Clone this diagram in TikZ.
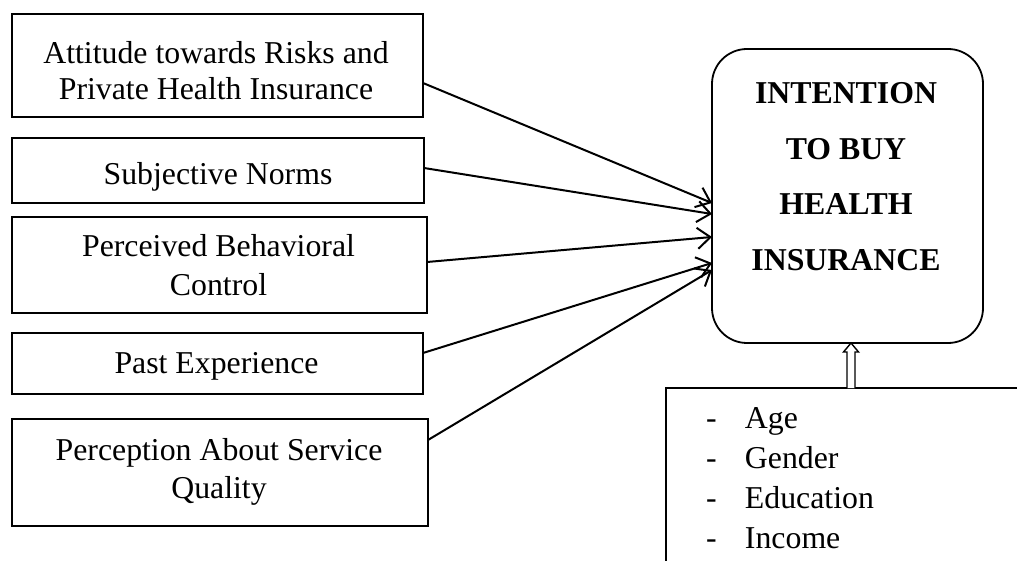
\documentclass[tikz,border=0pt]{standalone}
\usepackage{fontspec}
\setmainfont{Liberation Serif}
\usetikzlibrary{arrows.meta,calc}
\newcommand\mytxt[2]{\fontsize{31.8}{#1}\selectfont\begin{tabular}[t]{@{}c@{}}#2\end{tabular}}
\begin{document}
\begin{tikzpicture}[x=1pt,y=-1pt,
  box/.style={draw, line width=1.8pt, inner sep=0, outer sep=0, rectangle},
  lbl/.style={anchor=base, inner sep=0, outer sep=0},
  arr/.style={line width=2pt, -{Straight Barb[length=13pt,width=21pt,line width=2pt]}}]
\useasboundingbox (0,0) rectangle (1017,561);
\clip (0,0) rectangle (1017,561);

% left boxes
\node[box, minimum width=411pt, minimum height=103pt] (b1) at (217.5,65.5) {};
\node[box, minimum width=412pt, minimum height=65pt] (b2) at (218,170.5) {};
\node[box, minimum width=415pt, minimum height=96pt] (b3) at (219.5,265) {};
\node[box, minimum width=411pt, minimum height=61pt] (b4) at (217.5,363.5) {};
\node[box, minimum width=416pt, minimum height=107pt] (b5) at (220,472.5) {};

\node[lbl] (t1) at (216,64) {\mytxt{36}{Attitude towards Risks and\\Private Health Insurance}};
\node[lbl] (t2) at (218,185) {\mytxt{37}{Subjective Norms}};
\node[lbl] (t3) at (218.5,257) {\mytxt{39}{Perceived Behavioral\\Control}};
\node[lbl] (t4) at (216.5,373) {\mytxt{37}{Past Experience}};
\node[lbl] (t5) at (219,460) {\mytxt{38}{Perception About Service\\Quality}};

% target box
\node[draw, line width=1.8pt, rounded corners=35pt, minimum width=271pt, minimum height=294pt, inner sep=0, outer sep=0] (intent) at (847.5,196) {};
\node[lbl] (ti) at (846,104) {\bfseries\mytxt{55.5}{INTENTION\\TO BUY\\HEALTH\\INSURANCE}};

% demographic box
\node[box, anchor=north west, minimum width=380pt, minimum height=200pt] (demo) at (666,388) {};
\node[lbl, anchor=base west] (td) at (706,428) {\fontsize{31.8}{40}\selectfont\begin{tabular}[t]{@{}p{39pt}@{}l@{}}-&Age\\-&Gender\\-&Education\\-&Income\end{tabular}};

% arrows
\draw[arr] ([yshift=-17.5pt]b1.east) -- ([yshift=-7pt]intent.west);
\draw[arr] ([yshift=2.5pt]b2.east) -- ([yshift=-18pt]intent.west);
\draw[arr] ([yshift=3pt]b3.east) -- ([yshift=-41pt]intent.west);
\draw[arr] ([yshift=10.5pt]b4.east) -- ([yshift=-67pt]intent.west);
\draw[arr] ([yshift=32.5pt]b5.east) -- ([yshift=-74pt]intent.west);

% hollow double arrow
\coordinate (dt) at ([xshift=3.5pt]intent.south);
\coordinate (db) at (dt |- demo.north);
\draw[line width=1.4pt, line join=miter, fill=white]
  ([xshift=-4pt]db) -- ([xshift=-4pt,yshift=-9pt]dt) -- ([xshift=-7.5pt,yshift=-9pt]dt)
  -- (dt) -- ([xshift=7.5pt,yshift=-9pt]dt) -- ([xshift=4pt,yshift=-9pt]dt) -- ([xshift=4pt]db);
\end{tikzpicture}
\end{document}
